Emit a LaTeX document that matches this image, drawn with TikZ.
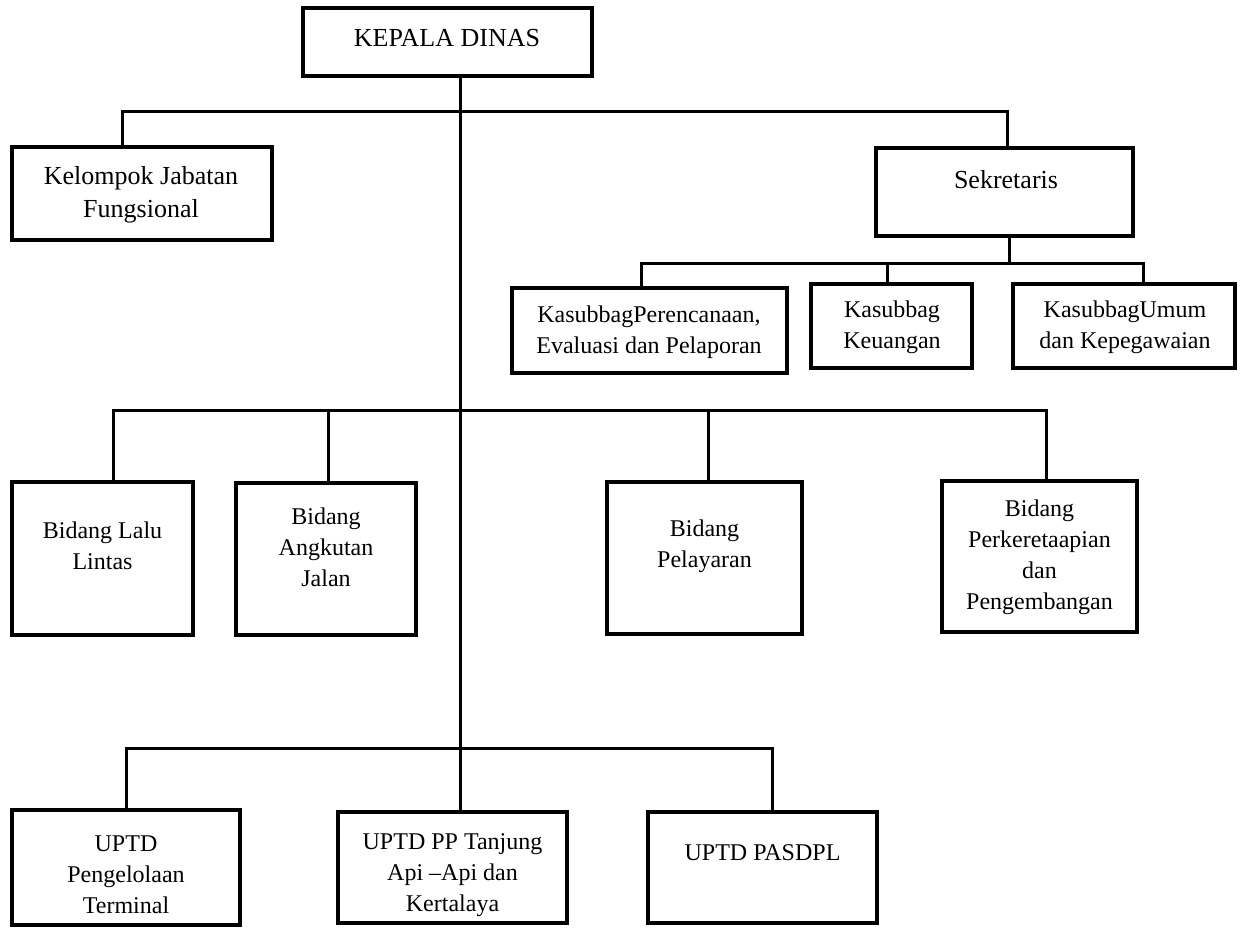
\documentclass[tikz,border=0pt]{standalone}
\usepackage{fontspec}
\setmainfont{Liberation Serif}
\tikzset{
  box/.style={draw, line width=4pt, rectangle, inner sep=0pt},
  conn/.style={line width=3pt},
  txt/.style={align=center, inner sep=0pt, font=\fontsize{24}{31}\selectfont},
  bigtxt/.style={align=center, inner sep=0pt, font=\fontsize{26}{33}\selectfont},
}
\begin{document}
\begin{tikzpicture}[x=1pt,y=-1pt]
\useasboundingbox (0,0) rectangle (1243,927);
% boxes
\node[box, minimum width=289pt, minimum height=68pt]  (kadis) at (447.5,42) {};
\node[box, minimum width=260pt, minimum height=93pt]  (kel)   at (142,193.5) {};
\node[box, minimum width=257pt, minimum height=88pt]  (sek)   at (1004.5,192) {};
\node[box, minimum width=275pt, minimum height=85pt]  (ren)   at (649.5,330.5) {};
\node[box, minimum width=161pt, minimum height=84pt]  (keu)   at (891.5,326) {};
\node[box, minimum width=222pt, minimum height=84pt]  (umum)  at (1124,326) {};
\node[box, minimum width=181pt, minimum height=153pt] (lalu)  at (102.5,558.5) {};
\node[box, minimum width=180pt, minimum height=152pt] (angk)  at (326,559) {};
\node[box, minimum width=195pt, minimum height=152pt] (pel)   at (704.5,558) {};
\node[box, minimum width=195pt, minimum height=151pt] (ka)    at (1039.5,556) {};
\node[box, minimum width=228pt, minimum height=115pt] (term)  at (126,867.5) {};
\node[box, minimum width=229pt, minimum height=111pt] (tj)    at (452.5,867.5) {};
\node[box, minimum width=229pt, minimum height=111pt] (asdp)  at (762.5,867.5) {};
% texts
\node[bigtxt] (kadis-t) at (447,38)     {KEPALA DINAS};
\node[bigtxt] (kel-t)   at (141,195)    {Kelompok Jabatan\\Fungsional};
\node[bigtxt] (sek-t)   at (1006,180)   {Sekretaris};
\node[txt]    (ren-t)   at (649,332)    {KasubbagPerencanaan,\\Evaluasi dan Pelaporan};
\node[txt]    (keu-t)   at (892,327.5)  {Kasubbag\\Keuangan};
\node[txt]    (umum-t)  at (1125,327.5) {KasubbagUmum\\dan Kepegawaian};
\node[txt]    (lalu-t)  at (102.5,546)  {Bidang Lalu\\Lintas};
\node[txt]    (angk-t)  at (326,547)    {Bidang\\Angkutan\\Jalan};
\node[txt]    (pel-t)   at (704.5,546)  {Bidang\\Pelayaran};
\node[txt]    (ka-t)    at (1039.5,557) {Bidang\\Perkeretaapian\\dan\\Pengembangan};
\node[txt]    (term-t)  at (126,875)    {UPTD\\Pengelolaan\\Terminal};
\node[txt]    (tj-t)    at (452.5,875)  {UPTD PP Tanjung\\Api --Api dan\\Kertalaya};
\node[txt]    (asdp-t)  at (762.5,853)  {UPTD PASDPL};
% junction coordinates
\coordinate (barA) at (460,111);
\coordinate (barS) at (1009,263);
\coordinate (barB) at (460,410);
\coordinate (barC) at (460,748);
\coordinate (xkel) at (122,0);
\coordinate (xsek) at (1007,0);
\coordinate (xren) at (641,0);
\coordinate (xkeu) at (887,0);
\coordinate (xumum) at (1143,0);
\coordinate (xlalu) at (113,0);
\coordinate (xangk) at (328,0);
\coordinate (xpel) at (708,0);
\coordinate (xka) at (1046,0);
\coordinate (xterm) at (126,0);
\coordinate (xasdp) at (772,0);
% connectors
\draw[conn] (kadis.south -| barA) -- (tj.north -| barA);
\draw[conn] (kel.north -| xkel) |- (barA) -| (sek.north -| xsek);
\draw[conn] (sek.south -| barS) -- (barS);
\draw[conn] (ren.north -| xren) |- (barS) -| (umum.north -| xumum);
\draw[conn] (keu.north -| xkeu) -- (xkeu |- barS);
\draw[conn] (lalu.north -| xlalu) |- (barB) -| (ka.north -| xka);
\draw[conn] (angk.north -| xangk) -- (xangk |- barB);
\draw[conn] (pel.north -| xpel) -- (xpel |- barB);
\draw[conn] (term.north -| xterm) |- (barC) -| (asdp.north -| xasdp);
\end{tikzpicture}
\end{document}
